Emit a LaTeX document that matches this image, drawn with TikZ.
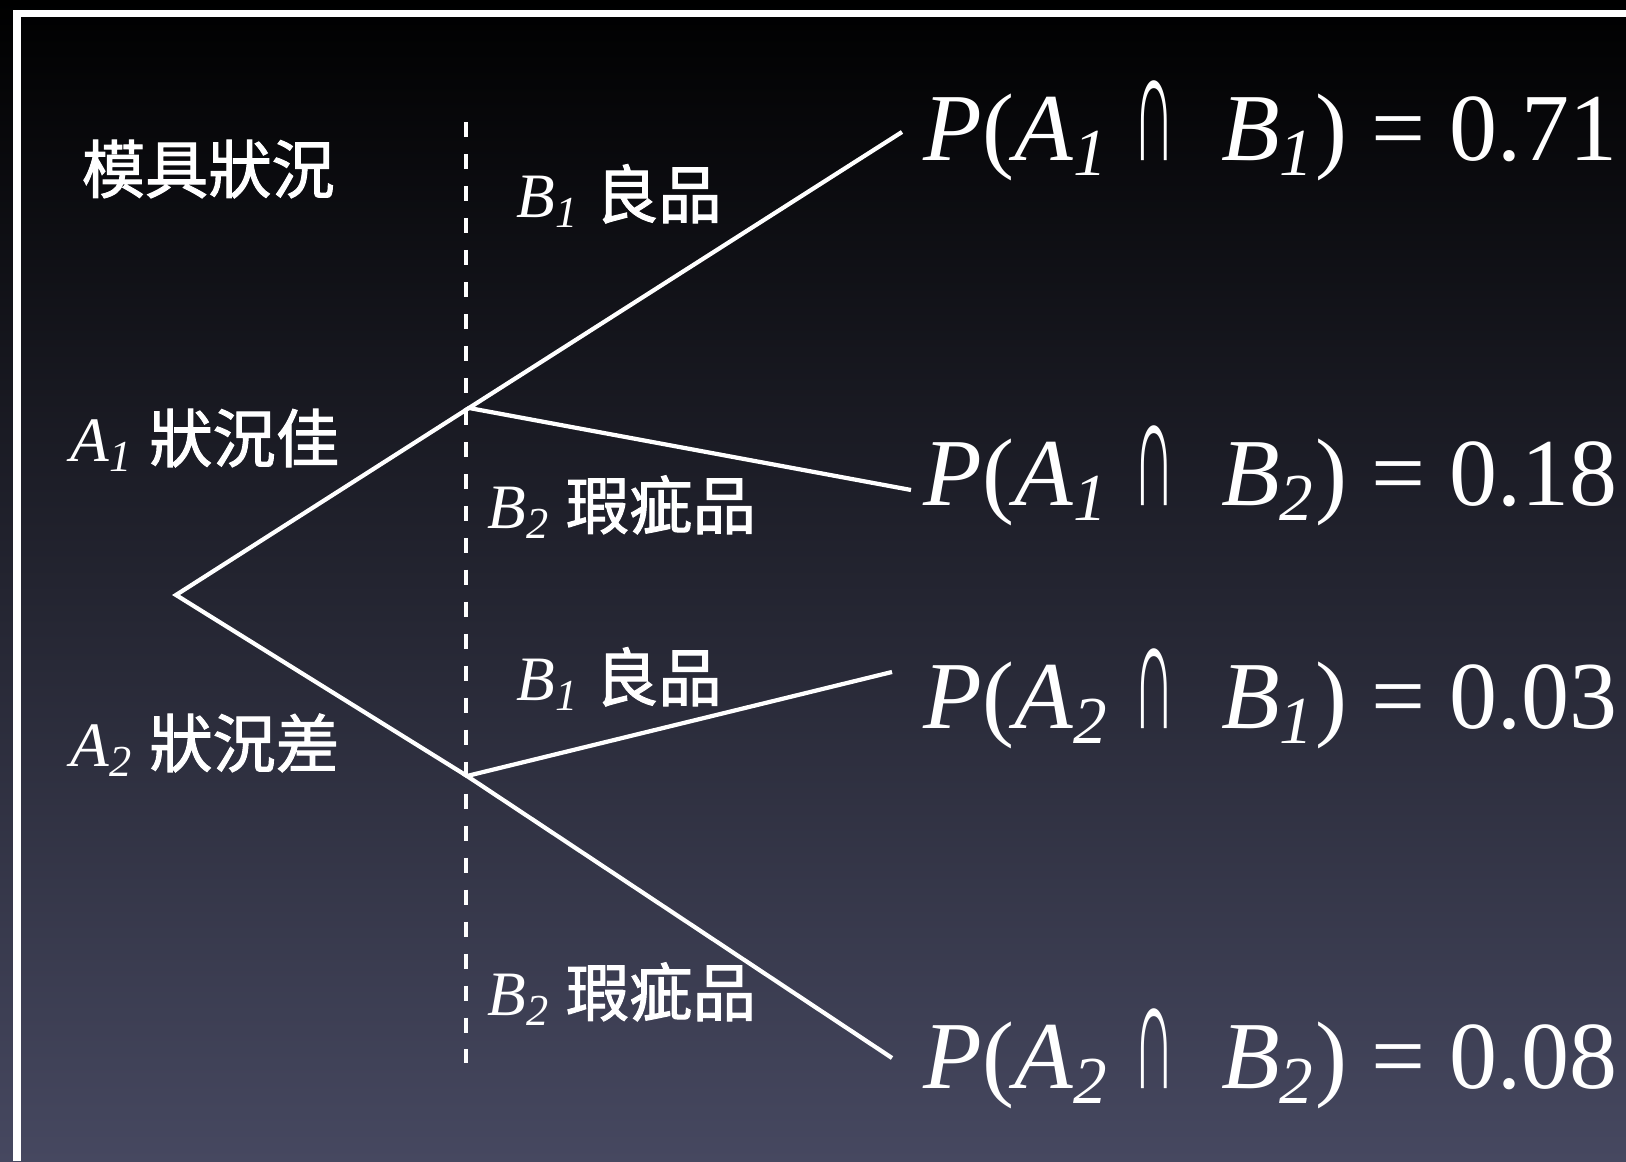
\documentclass[tikz,border=0pt]{standalone}
\usepackage{fontspec}
\usepackage{graphicx}
\setmainfont{Liberation Serif}
\newfontfamily\cjk{Noto Sans CJK TC}[FakeBold=1.6]
\usepackage{xcolor}
\usepackage{tikz}
\usetikzlibrary{positioning,calc}
\definecolor{bgtop}{RGB}{0,0,0}
\definecolor{bgmid}{RGB}{24,24,48}
\definecolor{bgbot}{RGB}{70,72,96}
\newcommand\vb[2]{\textit{#1}\textsubscript{\textit{#2}}}
\newcommand\zh[1]{{\cjk #1}}
\newcommand\capsym{\hspace{0.26em}\scalebox{0.6}[1.65]{∩}\hspace{0.48em}}
\begin{document}
\begin{tikzpicture}[branch/.style={white, line width=1.2pt},
  divider/.style={white, line width=1.4pt, dash pattern=on 4.3pt off 4.8pt},
  lbl/.style={text=white, anchor=base west, inner sep=0pt, font=\fontsize{18}{20}\selectfont},
  prob/.style={text=white, anchor=base west, inner sep=0pt, font=\fontsize{27.3}{30}\selectfont}]
\useasboundingbox (0,0) rectangle (16.26,11.61);
\shade[top color=bgtop, middle color=bgmid, bottom color=bgbot] (0,0) rectangle (16.26,11.61);
\draw[white, line width=2pt] (0.17,0) -- (0.17,11.47) -- (16.26,11.47);
% tree
\coordinate (root) at (1.76,5.66);
\coordinate (A1) at (4.69,7.53);
\coordinate (A2) at (4.67,3.85);
\coordinate (E11) at (9.02,10.29);
\coordinate (E12) at (9.11,6.71);
\coordinate (E21) at (8.92,4.89);
\coordinate (E22) at (8.92,1.03);
\coordinate (dtop) at (4.66,10.39);
\coordinate (dbot) at (4.66,0.98);
\draw[divider] (dtop) -- (dbot);
\draw[branch] (A1) -- (root) -- (A2);
\draw[branch] (E11) -- (A1) -- (E12);
\draw[branch] (E21) -- (A2) -- (E22);
% labels
\node[lbl] (title) at (0.81,9.68) {\zh{模具狀況}};
\node[lbl] (good) at (0.70,6.99) {\vb{A}{1} \zh{狀況佳}};
\node[lbl] (bad) at (0.70,3.94) {\vb{A}{2} \zh{狀況差}};
\node[lbl] (B11) at (5.16,9.43) {\vb{B}{1} \zh{良品}};
\node[lbl] (B12) at (4.87,6.32) {\vb{B}{2} \zh{瑕疵品}};
\node[lbl] (B21) at (5.16,4.60) {\vb{B}{1} \zh{良品}};
\node[lbl] (B22) at (4.87,1.45) {\vb{B}{2} \zh{瑕疵品}};
% joint probabilities
\node[prob] (P11) at (9.23,10.00) {\textit{P}(\vb{A}{1}\capsym\vb{B}{1}) = 0.71};
\node[prob] (P12) at (9.23,6.55) {\textit{P}(\vb{A}{1}\capsym\vb{B}{2}) = 0.18};
\node[prob] (P21) at (9.23,4.32) {\textit{P}(\vb{A}{2}\capsym\vb{B}{1}) = 0.03};
\node[prob] (P22) at (9.23,0.72) {\textit{P}(\vb{A}{2}\capsym\vb{B}{2}) = 0.08};
\end{tikzpicture}
\end{document}
